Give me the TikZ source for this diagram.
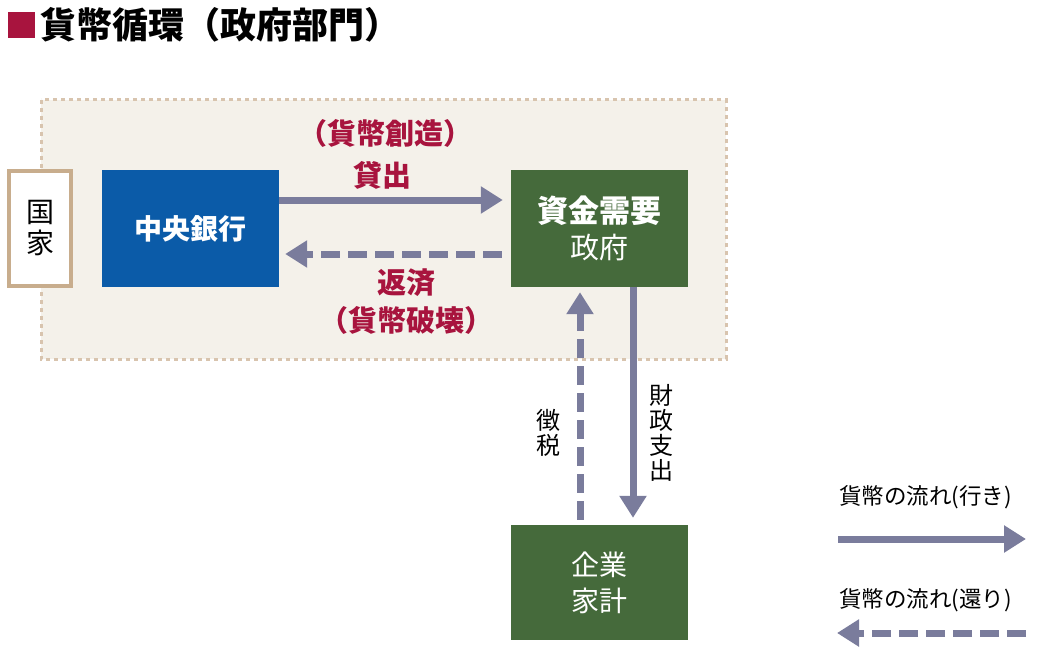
\documentclass[tikz,border=0pt]{standalone}
\usepackage{fontspec}
\setmainfont{Noto Sans CJK JP}
\usetikzlibrary{arrows.meta}
\definecolor{arr}{HTML}{7A7C9C}
\definecolor{crim}{HTML}{A8143E}
\definecolor{bluebox}{HTML}{0B5BA8}
\definecolor{greenbox}{HTML}{456A3B}
\definecolor{zonefill}{HTML}{F4F1EA}
\definecolor{zoneline}{HTML}{D8C4AE}
\definecolor{tan}{HTML}{C8AD8D}
\tikzset{
  box/.style={rectangle, inner sep=0pt, minimum width=177pt, minimum height=117pt, text=white, align=center},
  flow/.style={draw=arr, line width=7pt, -{Triangle[length=22pt,width=26pt]}},
  back/.style={flow, dash pattern=on 19pt off 8pt},
  redlab/.style={text=crim, font=\fontsize{29pt}{30pt}\selectfont\bfseries, inner sep=0pt},
  sidelab/.style={font=\fontsize{24pt}{25pt}\selectfont, align=center, inner sep=0pt},
  leglab/.style={font=\fontsize{22.5pt}{24pt}\selectfont, inner sep=0pt, anchor=west}
}
\begin{document}
\begin{tikzpicture}[x=1pt,y=-1pt]
\useasboundingbox (0,0) rectangle (1040,655);
% title
\fill[crim] (8,12) rectangle (35,38);
\node[anchor=west, inner sep=0pt, font=\fontsize{36pt}{36pt}\selectfont\bfseries] (title) at (40,25) {貨幣循環（政府部門）};
% zone
\draw[fill=zonefill, draw=zoneline, line width=3pt, dash pattern=on 4pt off 4pt] (41,100) rectangle (726,359);
% nodes
\node[draw=tan, fill=white, line width=3.5pt, minimum width=62pt, minimum height=115pt, inner sep=0pt,
      align=center, font=\fontsize{28pt}{31pt}\selectfont] (kokka) at (40,228.5) {国\\家};
\node[box, fill=bluebox, font=\fontsize{28pt}{30pt}\selectfont\bfseries] (cb) at (190.5,228.5) {中央銀行};
\node[box, fill=greenbox, font=\fontsize{29pt}{36pt}\selectfont] (gov) at (599.5,228.5) {{\fontsize{31pt}{36pt}\selectfont\bfseries 資金需要}\\政府};
\node[box, fill=greenbox, minimum height=115pt, font=\fontsize{28pt}{36pt}\selectfont] (hh) at (599.5,582.5) {企業\\家計};
% horizontal arrows
\draw[flow, shorten >=8pt] ([yshift=28.5pt]cb.east) -- ([yshift=28.5pt]gov.west);
\draw[back, shorten <=9pt, shorten >=6pt] ([yshift=-25.5pt]gov.west) -- ([yshift=-25.5pt]cb.east);
% labels
\node[redlab] (lab1) at (385,133) {（貨幣創造）};
\node[redlab] (lab2) at (382,175) {貸出};
\node[redlab] (lab3) at (406,283) {返済};
\node[redlab] (lab4) at (406,320) {（貨幣破壊）};
% vertical arrows
\draw[back, shorten <=5pt, shorten >=5pt] ([xshift=-19.5pt]hh.north) -- ([xshift=-19.5pt]gov.south);
\draw[flow, shorten >=7pt] ([xshift=33.5pt]gov.south) -- ([xshift=33.5pt]hh.north);
\node[sidelab] (tax) at (548,433) {徴\\税};
\node[sidelab] (spend) at (661,433) {財\\政\\支\\出};
% legend
\node[leglab] (leg1) at (839,497) {貨幣の流れ(行き)};
\node[leglab] (leg2) at (839,600) {貨幣の流れ(還り)};
\coordinate (l1a) at (838,539);
\coordinate (l1b) at (1026,539);
\coordinate (l2a) at (1026,633);
\coordinate (l2b) at (837,633);
\draw[flow] (l1a) -- (l1b);
\draw[back] (l2a) -- (l2b);
\end{tikzpicture}
\end{document}
